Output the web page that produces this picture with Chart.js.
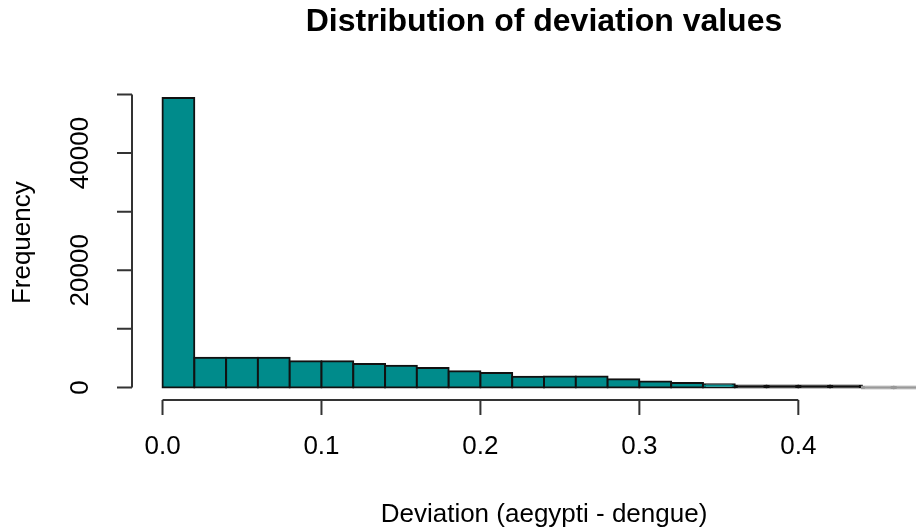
<!DOCTYPE html>
<html>
<head>
<meta charset="utf-8">
<script src="https://cdn.jsdelivr.net/npm/chart.js@4"></script>
<style>
  html, body { margin: 0; padding: 0; background: #fff; overflow: hidden; }
  #wrap { width: 916px; height: 531px; overflow: hidden; }
</style>
</head>
<body>
<div id="wrap"><canvas id="myChart" width="1000" height="531"></canvas></div>
<script>
// histogram bins (midpoints, width 0.02) and their counts
var binMids = [0.01, 0.03, 0.05, 0.07, 0.09, 0.11, 0.13, 0.15, 0.17, 0.19, 0.21, 0.23,
               0.25, 0.27, 0.29, 0.31, 0.33, 0.35, 0.37, 0.39, 0.41, 0.43, 0.45, 0.47];
var counts = [49400, 5050, 5050, 5080, 4480, 4460, 3980, 3690, 3330, 2770, 2480, 1830,
              1880, 1880, 1400, 1030, 770, 560, 150, 90, 50, 25, 0, 0];

var xTicks = [0, 0.1, 0.2, 0.3, 0.4];
var xTickLabels = ['0.0', '0.1', '0.2', '0.3', '0.4'];
var yTicks = [0, 10000, 20000, 30000, 40000, 50000];
var yTickLabels = ['0', '', '20000', '', '40000', ''];

var font = '"Liberation Sans", Arial, sans-serif';

// R-style extended ranges (4% each side)
var xLo = 0, xHi = 0.48;
var xPad = (xHi - xLo) * 0.04;
var yHi = Math.max.apply(null, counts);
var yPad = yHi * 0.04;

// bars thinner than their outline collapse to a plain line
function barFill(c) {
  var v = c.raw ? c.raw.y : 0;
  if (v === 0) return '#999';
  if (v < 300) return '#111';
  return '#008b8b';
}

// axes drawn detached from the plot box, only over the tick range
var baseAxes = {
  id: 'baseAxes',
  afterDraw: function (chart) {
    var ctx = chart.ctx;
    var area = chart.chartArea;
    var xs = chart.scales.x, ys = chart.scales.y;
    ctx.save();
    ctx.strokeStyle = '#333';
    ctx.lineWidth = 2;
    ctx.fillStyle = '#000';
    ctx.font = '26px ' + font;

    // x axis
    var yAxis = area.bottom + 1;
    ctx.beginPath();
    ctx.moveTo(xs.getPixelForValue(xTicks[0]), yAxis);
    ctx.lineTo(xs.getPixelForValue(xTicks[xTicks.length - 1]), yAxis);
    xTicks.forEach(function (t) {
      var px = xs.getPixelForValue(t);
      ctx.moveTo(px, yAxis);
      ctx.lineTo(px, yAxis + 15);
    });
    ctx.stroke();
    ctx.textAlign = 'center';
    ctx.textBaseline = 'middle';
    xTicks.forEach(function (t, i) {
      ctx.fillText(xTickLabels[i], xs.getPixelForValue(t), yAxis + 47);
    });
    ctx.fillText('Deviation (aegypti - dengue)', (area.left + area.right) / 2, yAxis + 115);

    // y axis
    var xAxis = area.left;
    ctx.beginPath();
    ctx.moveTo(xAxis, ys.getPixelForValue(yTicks[0]));
    ctx.lineTo(xAxis, ys.getPixelForValue(yTicks[yTicks.length - 1]));
    yTicks.forEach(function (t) {
      var py = ys.getPixelForValue(t);
      ctx.moveTo(xAxis, py);
      ctx.lineTo(xAxis - 15, py);
    });
    ctx.stroke();
    yTicks.forEach(function (t, i) {
      if (!yTickLabels[i]) return;
      ctx.save();
      ctx.translate(xAxis - 51, ys.getPixelForValue(t));
      ctx.rotate(-Math.PI / 2);
      ctx.fillText(yTickLabels[i], 0, 0);
      ctx.restore();
    });
    ctx.save();
    ctx.translate(xAxis - 109, (area.top + area.bottom) / 2);
    ctx.rotate(-Math.PI / 2);
    ctx.fillText('Frequency', 0, 0);
    ctx.restore();

    ctx.restore();
  }
};

var ctx = document.getElementById('myChart').getContext('2d');

var myChart = new Chart(ctx, {
  type: 'bar',
  data: {
    datasets: [{
      label: 'Frequency',
      data: binMids.map(function (m, i) { return { x: m, y: counts[i] }; }),
      backgroundColor: barFill,
      borderColor: function (c) { return c.raw && c.raw.y === 0 ? '#999' : '#111'; },
      borderWidth: 2,
      inflateAmount: 1,
      borderSkipped: false,
      minBarLength: 2,
      barPercentage: 1,
      categoryPercentage: 1
    }]
  },
  options: {
    responsive: false,
    animation: false,
    devicePixelRatio: 1,
    layout: { padding: { left: 132, right: 44, top: 0, bottom: 132 } },
    plugins: {
      legend: { display: false },
      tooltip: { enabled: false },
      title: {
        display: true,
        text: 'Distribution of deviation values',
        fullSize: false,
        color: '#000',
        font: { family: font, size: 32, weight: 'bold', lineHeight: 1.2 },
        padding: { top: 3, bottom: 45 }
      }
    },
    scales: {
      x: { type: 'linear', display: false, min: xLo - xPad, max: xHi + xPad, offset: false },
      y: { display: false, min: -yPad, max: yHi + yPad }
    }
  },
  plugins: [baseAxes]
});
</script>
</body>
</html>
